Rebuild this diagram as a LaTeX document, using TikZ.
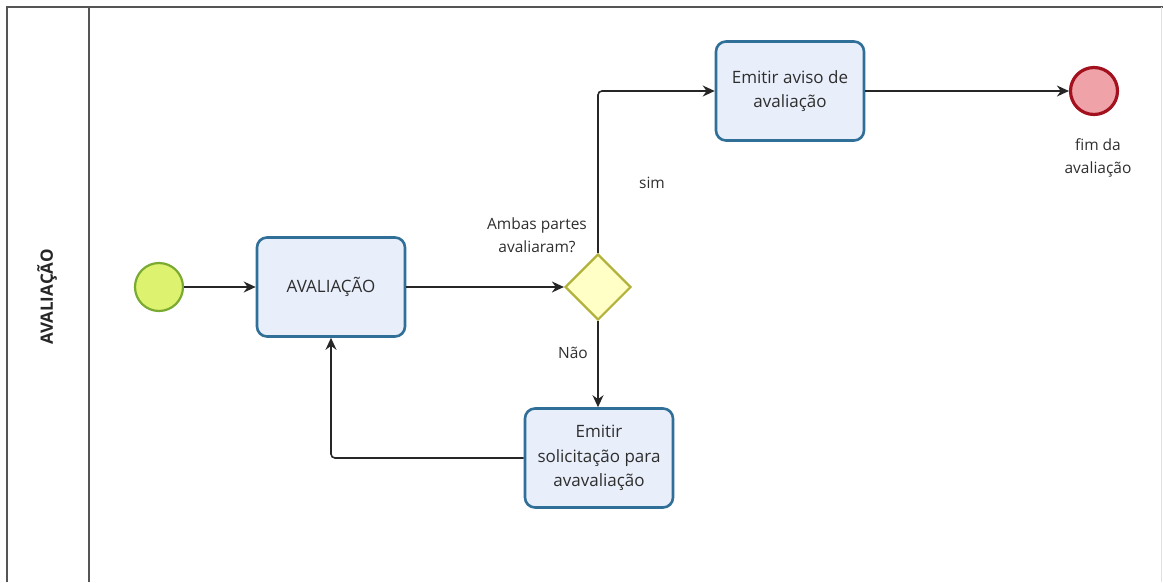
\documentclass[tikz,border=0pt]{standalone}
\usepackage{fontspec}
\setmainfont{Open Sans}
\usetikzlibrary{shapes.geometric,arrows.meta}
\definecolor{taskfill}{HTML}{E8EEFA}
\definecolor{taskdraw}{HTML}{2F6F98}
\definecolor{startfill}{HTML}{DDF26E}
\definecolor{startdraw}{HTML}{7BAA32}
\definecolor{gwfill}{HTML}{FFFFC6}
\definecolor{gwdraw}{HTML}{B2B23C}
\definecolor{endfill}{HTML}{EFA3A8}
\definecolor{enddraw}{HTML}{A3101E}
\definecolor{txt}{HTML}{2E2E2E}
\definecolor{frame}{HTML}{555555}
\begin{document}
\begin{tikzpicture}[x=1pt,y=-1pt,
  task/.style={draw=taskdraw,fill=taskfill,line width=2.6pt,rounded corners=10pt,
    minimum width=148pt,minimum height=99pt,align=center,font=\fontsize{17}{24.5}\selectfont,text=txt},
  startev/.style={circle,draw=startdraw,fill=startfill,line width=2.2pt,minimum size=48pt,inner sep=0pt},
  endev/.style={circle,draw=enddraw,fill=endfill,line width=3.2pt,minimum size=47pt,inner sep=0pt},
  gateway/.style={diamond,draw=gwdraw,fill=gwfill,line width=2.2pt,minimum width=66pt,minimum height=66pt,inner sep=0pt},
  lbl/.style={font=\fontsize{15.5}{23.5}\selectfont,text=txt,align=center},
  flow/.style={line width=1.6pt,draw=black!85,-{Stealth[length=12pt,width=11pt]},rounded corners=4pt}
]
\useasboundingbox (0,0) rectangle (1163,582);
% pool / lane frame
\draw[line width=2pt,draw=frame] (7,582) -- (7,7) -- (1163,7);
\draw[line width=2pt,draw=frame] (89,7) -- (89,582);
\draw[line width=1pt,draw=black!12] (1161,7) -- (1161,582);
\node[rotate=90,font=\bfseries\fontsize{17}{20}\selectfont,text=black!85] (lane) at (47,297) {AVALIAÇÃO};
% nodes
\node[startev] (start) at (159,287) {};
\node[task] (aval) at (331,287) {AVALIAÇÃO};
\node[gateway] (gw) at (598,287) {};
\node[task] (aviso) at (790,91) {Emitir aviso de\\avaliação};
\node[task] (solic) at (599,458) {Emitir\\solicitação para\\avavaliação};
\node[endev] (fim) at (1094,91) {};
% labels
\node[lbl] (q) at (537,235) {Ambas partes\\avaliaram?};
\node[lbl] (sim) at (652,183) {sim};
\node[lbl] (nao) at (573,353) {Não};
\node[lbl] (fimlbl) at (1098,158) {fim da\\avaliação};
% flows
\draw[flow] (start) -- (aval);
\draw[flow] (aval) -- (gw);
\draw[flow] (gw.north) |- (aviso.west);
\draw[flow] (gw.south) -- (solic.north -| gw.south);
\draw[flow] (aviso) -- (fim);
\draw[flow] (solic.west) -| (aval.south);
\end{tikzpicture}
\end{document}
